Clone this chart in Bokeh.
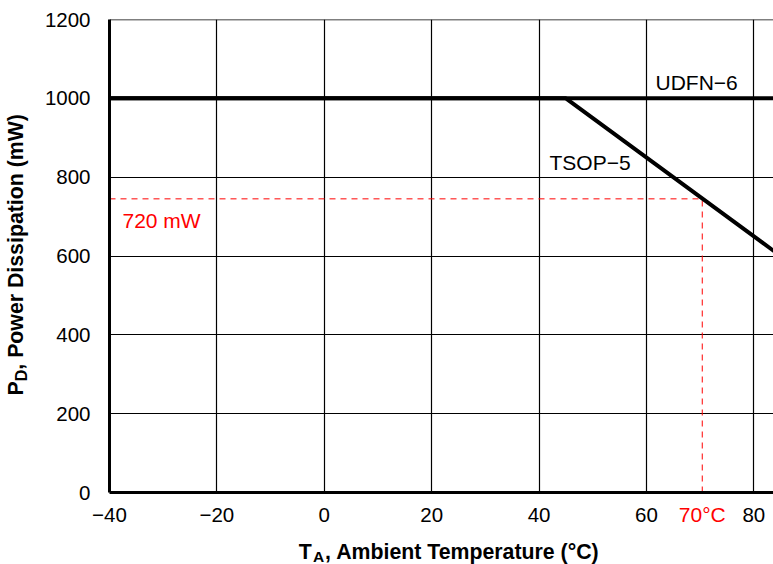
from bokeh.plotting import figure
from bokeh.models import Label, FixedTicker, Range1d, LinearAxis
from bokeh.embed import file_html
from bokeh.resources import INLINE

# ---------------- data ----------------
udfn_temp = [-40, 125]
udfn_power = [1000, 1000]
tsop_temp = [-40, 45, 125]
tsop_power = [1000, 1000, 200]
x_ticks = [-40, -20, 0, 20, 40, 60, 80]
x_tick_labels = ["\u221240", "\u221220", "0", "20", "40", "60", "80"]
y_ticks = [0, 200, 400, 600, 800, 1000, 1200]
op_temp = 70.4
op_power = 745
op_temp_label = "70\u00b0C"
op_power_label = "720 mW"
series_labels = ["UDFN\u22126", "TSOP\u22125"]
x_title = ["T", "A", ", Ambient Temperature (\u00b0C)"]
y_title = ["P", "D", ", Power Dissipation (mW)"]

# ---------------- layout ----------------
W, H = 773, 564
BL, BT, BB, BR = 109, 19, 72, 0
X0, X1 = -40, 83.67
Y0, Y1 = 0, 1200
FW = W - BL - BR
FH = H - BT - BB
sx = FW / (X1 - X0)
sy = FH / (Y1 - Y0)


def dx(page_x):
    return X0 + (page_x - BL) / sx


def dy(page_y):
    return Y0 + (BT + FH - page_y) / sy


FONT = "Liberation Sans"

p = figure(width=W, height=H, x_range=Range1d(X0, X1), y_range=Range1d(Y0, Y1),
           output_backend="svg", toolbar_location=None,
           min_border_left=BL, min_border_right=BR, min_border_top=BT, min_border_bottom=BB)
p.outline_line_color = None
p.background_fill_color = "white"
p.border_fill_color = "white"

for ax, ticks in ((p.xaxis, x_ticks), (p.yaxis, y_ticks)):
    ax.ticker = FixedTicker(ticks=ticks)
    ax.axis_line_width = 3
    ax.axis_line_color = "black"
    ax.major_tick_line_color = None
    ax.minor_tick_line_color = None
    ax.major_tick_out = 0
    ax.major_tick_in = 0
    ax.major_label_text_font = FONT
    ax.major_label_text_font_size = "20.5px"
    ax.major_label_text_color = "black"

p.xaxis.major_label_overrides = {t: l for t, l in zip(x_ticks, x_tick_labels)}
p.xaxis.major_label_standoff = 15
p.yaxis.major_label_standoff = 19

p.xgrid.ticker = FixedTicker(ticks=x_ticks)
p.ygrid.ticker = FixedTicker(ticks=y_ticks)
for g in (p.xgrid, p.ygrid):
    g.grid_line_color = "black"
    g.grid_line_width = 1.2
    g.grid_line_alpha = 1.0

# top border of the plot area (grid skips the range end)
p.line([X0, X1], [y_ticks[-1], y_ticks[-1]], line_color="black", line_width=1.5)

# red operating-point guides
p.line([X0, op_temp], [op_power, op_power], line_color="red", line_width=1, line_dash="6 5")
p.line([op_temp, op_temp], [Y0, op_power], line_color="red", line_width=1, line_dash="6 5")

# derating curves
p.line(tsop_temp, tsop_power, line_color="black", line_width=4)
p.line(udfn_temp, udfn_power, line_color="black", line_width=4)


def add_label(text, px, py, size="21px", color="black"):
    p.add_layout(Label(x=dx(px), y=dy(py), text=text, text_font=FONT, text_font_size=size,
                       text_color=color, text_align="left", text_baseline="alphabetic"))


# (py is the wanted baseline; Bokeh places 'alphabetic' ~8.5px lower)
add_label(series_labels[0], 655, 90.7 - 8.5)
add_label(series_labels[1], 549, 170 - 8.5)
add_label(op_power_label, 122, 228 - 8.5, color="red")


def text_axis(side, ticks, texts, size, standoff, color="black", bold=False,
              orientation="horizontal"):
    ax = LinearAxis(ticker=FixedTicker(ticks=list(ticks)),
                    major_label_overrides={t: s for t, s in zip(ticks, texts)},
                    major_label_orientation=orientation,
                    major_label_standoff=int(round(standoff)),
                    major_label_text_font=FONT,
                    major_label_text_font_size=size,
                    major_label_text_font_style="bold" if bold else "normal",
                    major_label_text_color=color,
                    axis_line_color=None, major_tick_line_color=None,
                    minor_tick_line_color=None, major_tick_out=0, major_tick_in=0)
    p.add_layout(ax, side)
    return ax


# red temperature marker on the tick row (stacked after the main x axis)
text_axis("below", [op_temp], [op_temp_label], "21px", -22, color="red")

# x axis title  T_A, Ambient Temperature (°C)
text_axis("above", [dx(304.8), dx(461.8)], [x_title[0], x_title[2]], "21.3px",
          BT - 562.5, bold=True)
text_axis("above", [dx(318.1)], [x_title[1]], "15.5px", BT - 564, bold=True)

# y axis title  P_D, Power Dissipation (mW)
text_axis("left", [dy(387.9), dy(241.4)], [y_title[0], y_title[2]], "21.3px", 13,
          bold=True, orientation="vertical")
text_axis("left", [dy(375.0)], [y_title[1]], "16px", -28, bold=True, orientation="vertical")

open("out.html", "w").write(file_html(p, INLINE))
